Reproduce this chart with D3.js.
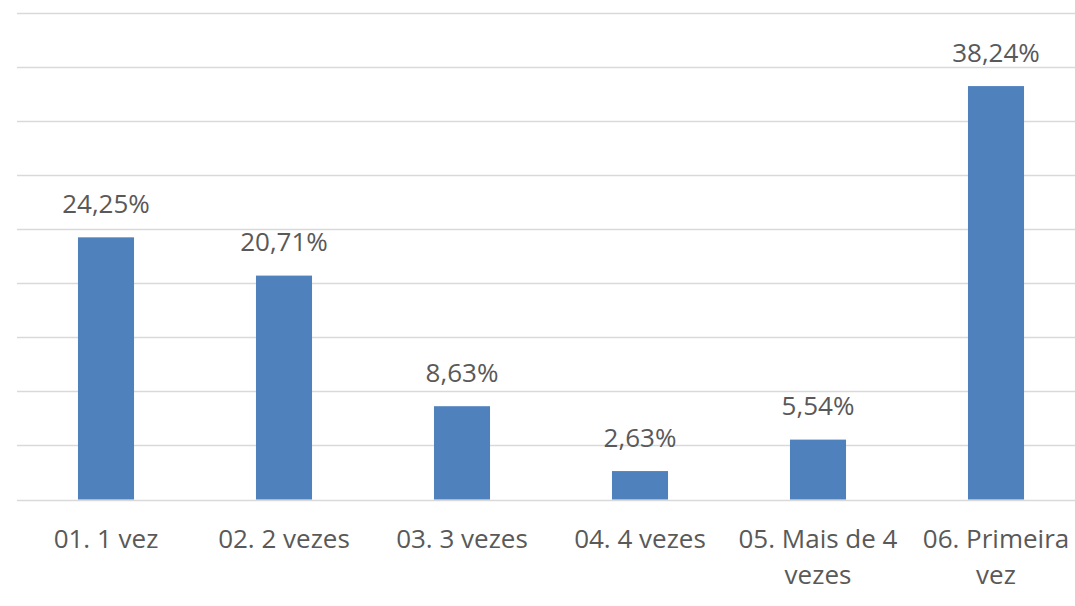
<!DOCTYPE html>
<html>
<head>
<meta charset="utf-8">
<script src="https://cdn.jsdelivr.net/npm/d3@7"></script>
<style>
  html, body { margin: 0; padding: 0; background: #ffffff; }
  svg { display: block; }
</style>
</head>
<body>
<svg id="chart" width="1075" height="606"></svg>
<script>
const categories = ["01. 1 vez", "02. 2 vezes", "03. 3 vezes", "04. 4 vezes", "05. Mais de 4 vezes", "06. Primeira vez"];
const values = [24.25, 20.71, 8.63, 2.63, 5.54, 38.24];
const yTicks = [0, 5, 10, 15, 20, 25, 30, 35, 40, 45];

const svg = d3.select("#chart");
const fontFamily = "'Open Sans', 'Liberation Sans', sans-serif";
const textColor = "#595959";

const x = d3.scaleBand().domain(categories).range([17, 1085]).paddingInner(0.685).paddingOuter(0.3425);
const y = d3.scaleLinear().domain([0, 45]).range([499.5, 13]);

// gridlines
svg.append("g").selectAll("line").data(yTicks).join("line")
  .attr("x1", 17).attr("x2", 1075)
  .attr("y1", d => Math.round(y(d)) + 0.5).attr("y2", d => Math.round(y(d)) + 0.5)
  .attr("stroke", "#d9d9d9").attr("stroke-width", 1.5);

// bars
svg.append("g").selectAll("rect").data(values).join("rect")
  .attr("x", (d, i) => x(categories[i]))
  .attr("width", x.bandwidth())
  .attr("y", d => y(d))
  .attr("height", d => y(0) - y(d))
  .attr("fill", "#4f81bd");

// value labels
const fmt = d => d.toFixed(2).replace(".", ",") + "%";
svg.append("g").selectAll("text").data(values).join("text")
  .attr("x", (d, i) => x(categories[i]) + x.bandwidth() / 2)
  .attr("y", d => y(d) - 24.5)
  .attr("text-anchor", "middle")
  .attr("font-family", fontFamily)
  .attr("font-size", 26)
  .attr("fill", textColor)
  .text(fmt);

// category labels with wrapping
const ctx = document.createElement("canvas").getContext("2d");
ctx.font = "26px " + fontFamily;
function wrap(str, maxW) {
  const words = str.split(" ");
  const lines = [];
  let cur = "";
  words.forEach(w => {
    const test = cur ? cur + " " + w : w;
    if (ctx.measureText(test).width > maxW && cur) { lines.push(cur); cur = w; }
    else cur = test;
  });
  if (cur) lines.push(cur);
  return lines;
}
const labelG = svg.append("g");
categories.forEach(c => {
  const lines = wrap(c, 175);
  const t = labelG.append("text")
    .attr("text-anchor", "middle")
    .attr("font-family", fontFamily)
    .attr("font-size", 26)
    .attr("fill", textColor);
  lines.forEach((ln, j) => {
    t.append("tspan")
      .attr("x", x(c) + x.bandwidth() / 2)
      .attr("y", 548 + j * 36)
      .text(ln);
  });
});
</script>
</body>
</html>
